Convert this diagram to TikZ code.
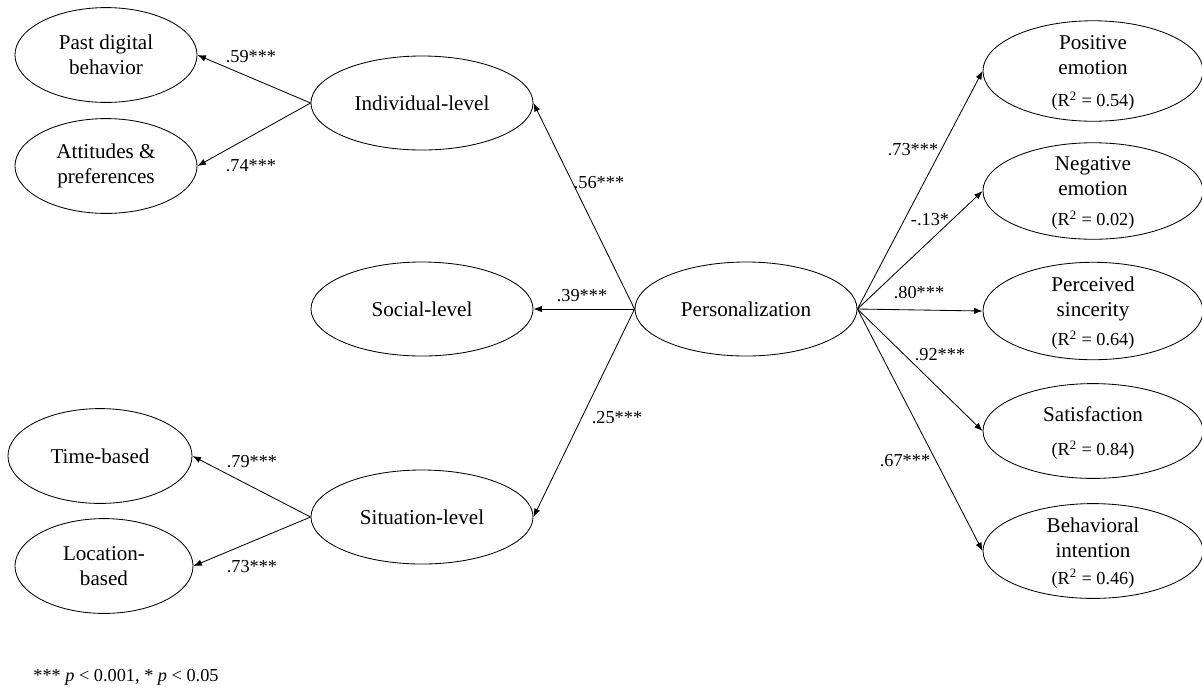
\documentclass[tikz,border=0pt]{standalone}
\usepackage{fontspec}
\setmainfont{Liberation Serif}
\usetikzlibrary{shapes,arrows.meta}
\newcommand\rsqfont{\fontsize{13}{15}\selectfont}

\begin{document}
\begin{tikzpicture}[x=0.025cm,y=-0.025cm,line width=0.6pt,
    >={Latex[length=6pt,width=4.5pt]},
    latent/.style={ellipse,draw,inner sep=0pt,align=center,
        font=\fontsize{15}{17.8}\selectfont},
    leftvar/.style={latent,minimum width=4.55cm,minimum height=2.37cm},
    midvar/.style={latent,minimum width=5.55cm,minimum height=2.35cm},
    outvar/.style={latent,minimum width=5.5cm,minimum height=2.37cm,text depth=-12pt},
    coef/.style={font=\fontsize{13}{15}\selectfont,inner sep=0pt}]
\useasboundingbox (0,0) rectangle (1202,687);

% first-order factors
\node[leftvar] (past) at (106,55) {Past digital\\behavior};
\node[leftvar] (attit) at (106,166) {Attitudes \&\\preferences};
\node[leftvar,minimum width=4.6cm] (time) at (100,456) {Time-based};
\node[leftvar,minimum width=4.45cm] (loc) at (104,566) {Location-\\based};

% dimensions
\node[midvar] (indiv) at (422,103) {Individual-level};
\node[midvar] (social) at (422,309) {Social-level};
\node[midvar] (situ) at (422,517) {Situation-level};
\node[midvar] (pers) at (746,309) {Personalization};

% outcomes
\node[outvar] (pos) at (1093,71) {Positive\\emotion\\[5pt]{\rsqfont(R\textsuperscript{2} = 0.54)}};
\node[outvar] (neg) at (1093,191) {Negative\\emotion\\[3pt]{\rsqfont(R\textsuperscript{2} = 0.02)}};
\node[outvar] (sinc) at (1093,311) {Perceived\\sincerity\\[3pt]{\rsqfont(R\textsuperscript{2} = 0.64)}};
\node[outvar] (satis) at (1093,431) {Satisfaction\\[6pt]{\rsqfont(R\textsuperscript{2} = 0.84)}};
\node[outvar] (behav) at (1093,551) {Behavioral\\intention\\[1pt]{\rsqfont(R\textsuperscript{2} = 0.46)}};

% paths
\draw[->] (indiv.west) -- (past.east);
\draw[->] (indiv.west) -- (attit.east);
\draw[->] (situ.west) -- (time.east);
\draw[->] (situ.west) -- (loc.east);
\draw[->] (pers.west) -- (indiv.east);
\draw[->] (pers.west) -- (social.east);
\draw[->] (pers.west) -- (situ.east);
\foreach \o in {pos,neg,sinc,satis,behav}
  \draw[->] (pers.east) -- (\o.west);

% loadings
\node[coef] (c59) at (251,57) {.59***};
\node[coef] (c74) at (251,166) {.74***};
\node[coef] (c79) at (252,462) {.79***};
\node[coef] (c73a) at (252,567) {.73***};
\node[coef] (c56) at (599,183) {.56***};
\node[coef] (c39) at (582,296) {.39***};
\node[coef] (c25) at (617,418) {.25***};
\node[coef] (c73b) at (913,150) {.73***};
\node[coef] (c13) at (930,220) {-.13*};
\node[coef] (c80) at (919,293) {.80***};
\node[coef] (c92) at (940,355) {.92***};
\node[coef] (c67) at (905,461) {.67***};

\node[coef,anchor=west] (note) at (33,677) {*** \textit{p} < 0.001, * \textit{p} < 0.05};
\end{tikzpicture}
\end{document}
